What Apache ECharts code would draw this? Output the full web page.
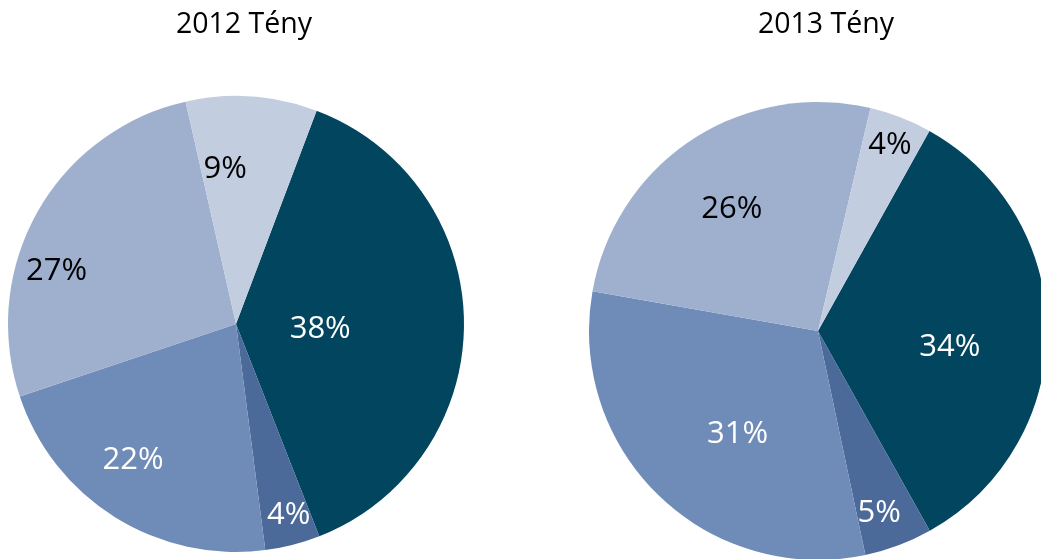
<!DOCTYPE html>
<html>
<head>
<meta charset="utf-8">
<script src="https://cdn.jsdelivr.net/npm/echarts@6/dist/echarts.min.js"></script>
<style>
  html, body { margin: 0; padding: 0; background: #fff; }
  #chart { width: 1041px; height: 559px; }
</style>
</head>
<body>
<div id="chart"></div>
<script>
// kategóriák (a legenda nem látszik, csak a szeletek)
const categories = ["A", "B", "C", "D", "E"];
const values2012 = [38.3, 3.9, 21.9, 26.6, 9.3];
const values2013 = [33.8, 4.8, 31.1, 25.9, 4.4];
const titles = ["2012 Tény", "2013 Tény"];

const colors = ["#02455f", "#4b6a99", "#6f8cb8", "#9eb0ce", "#c3cde0"];
const labelColors = ["#fff", "#fff", "#fff", "#000", "#000"];

// címkék helye: sugár aránya és szög-eltolás (fok) a szelet közepéhez képest
const labelRadius2012 = [0.37, 0.87, 0.75, 0.82, 0.68];
const labelNudge2012 = [4, -1, 5, -13, -8];
const labelRadius2013 = [0.58, 0.84, 0.57, 0.65, 0.87];
const labelNudge2013 = [7, 2, -6, -2, 0];

const pies = [
  { values: values2012, center: [236, 324], radius: 228, start: 20.7, lr: labelRadius2012, ln: labelNudge2012 },
  { values: values2013, center: [818, 331], radius: 229, start: 29.1, lr: labelRadius2013, ln: labelNudge2013 }
];

const chart = echarts.init(document.getElementById("chart"));

function midAngle(values, start, i) {
  const total = values.reduce((a, b) => a + b, 0);
  let before = 0;
  for (let k = 0; k < i; k++) before += values[k];
  return start + (before + values[i] / 2) / total * 360;
}

const series = pies.map((p, s) => ({
  type: "pie",
  center: p.center,
  radius: [0, p.radius],
  startAngle: 90 - p.start,
  clockwise: true,
  animation: false,
  silent: true,
  itemStyle: { borderWidth: 0 },
  label: {
    show: true,
    position: "inside",
    formatter: (d) => Math.round(d.value) + "%",
    fontFamily: "Open Sans",
    fontSize: 31
  },
  labelLine: { show: false },
  labelLayout: (params) => {
    const i = params.dataIndex;
    const a = (midAngle(p.values, p.start, i) + p.ln[i]) * Math.PI / 180;
    const r = p.lr[i] * p.radius;
    return {
      x: p.center[0] + r * Math.sin(a),
      y: p.center[1] - r * Math.cos(a),
      align: "center",
      verticalAlign: "middle"
    };
  },
  data: p.values.map((v, i) => ({
    name: categories[i],
    value: v,
    itemStyle: { color: colors[i] },
    label: { color: labelColors[i] }
  }))
}));

const options = {
  title: titles.map((t, i) => ({
    text: t,
    left: pies[i].center[0] + 3,
    top: 5,
    textAlign: "center",
    textStyle: {
      fontFamily: "Open Sans",
      fontWeight: "normal",
      fontSize: 28.5,
      color: "#000"
    }
  })),
  series: series
};

chart.setOption(options);
</script>
</body>
</html>
